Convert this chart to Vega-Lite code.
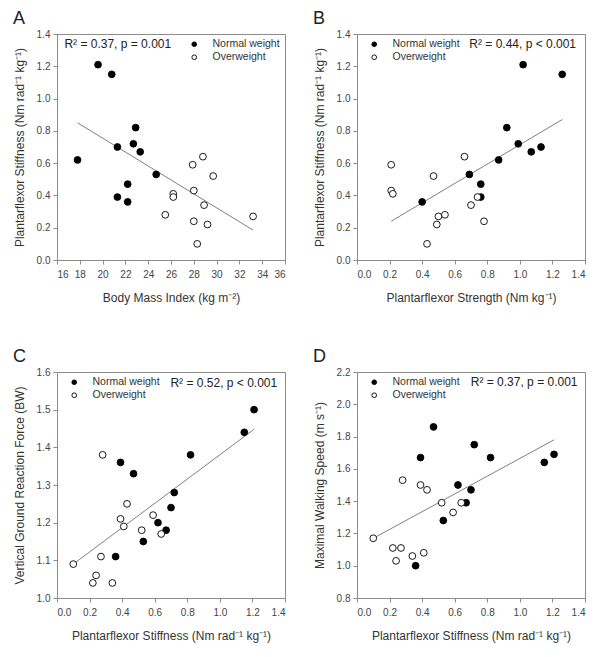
{
  "$schema": "https://vega.github.io/schema/vega-lite/v6.json",
  "padding": {"left": 12, "top": 9, "right": 5, "bottom": 5},
  "background": "white",
  "datasets": {
    "a": [
      {"x": 17.8, "y": 0.62, "group": "Normal weight"},
      {"x": 19.6, "y": 1.21, "group": "Normal weight"},
      {"x": 20.8, "y": 1.15, "group": "Normal weight"},
      {"x": 21.3, "y": 0.70, "group": "Normal weight"},
      {"x": 21.3, "y": 0.39, "group": "Normal weight"},
      {"x": 22.2, "y": 0.47, "group": "Normal weight"},
      {"x": 22.2, "y": 0.36, "group": "Normal weight"},
      {"x": 22.7, "y": 0.72, "group": "Normal weight"},
      {"x": 22.9, "y": 0.82, "group": "Normal weight"},
      {"x": 23.3, "y": 0.67, "group": "Normal weight"},
      {"x": 24.7, "y": 0.53, "group": "Normal weight"},
      {"x": 25.5, "y": 0.28, "group": "Overweight"},
      {"x": 26.2, "y": 0.41, "group": "Overweight"},
      {"x": 26.2, "y": 0.39, "group": "Overweight"},
      {"x": 27.9, "y": 0.59, "group": "Overweight"},
      {"x": 28.0, "y": 0.43, "group": "Overweight"},
      {"x": 28.0, "y": 0.24, "group": "Overweight"},
      {"x": 28.3, "y": 0.10, "group": "Overweight"},
      {"x": 28.8, "y": 0.64, "group": "Overweight"},
      {"x": 28.9, "y": 0.34, "group": "Overweight"},
      {"x": 29.2, "y": 0.22, "group": "Overweight"},
      {"x": 29.7, "y": 0.52, "group": "Overweight"},
      {"x": 33.2, "y": 0.27, "group": "Overweight"}
    ],
    "aFit": [{"x": 17.8, "y": 0.85}, {"x": 33.2, "y": 0.185}],
    "aNote": [{"note": "R² = 0.37, p = 0.001", "x": 16.65, "y": 1.335}],
    "b": [
      {"x": 0.40, "y": 0.36, "group": "Normal weight"},
      {"x": 0.69, "y": 0.53, "group": "Normal weight"},
      {"x": 0.76, "y": 0.47, "group": "Normal weight"},
      {"x": 0.76, "y": 0.39, "group": "Normal weight"},
      {"x": 1.02, "y": 1.21, "group": "Normal weight"},
      {"x": 1.26, "y": 1.15, "group": "Normal weight"},
      {"x": 0.92, "y": 0.82, "group": "Normal weight"},
      {"x": 0.99, "y": 0.72, "group": "Normal weight"},
      {"x": 1.07, "y": 0.67, "group": "Normal weight"},
      {"x": 1.13, "y": 0.70, "group": "Normal weight"},
      {"x": 0.87, "y": 0.62, "group": "Normal weight"},
      {"x": 0.21, "y": 0.59, "group": "Overweight"},
      {"x": 0.21, "y": 0.43, "group": "Overweight"},
      {"x": 0.22, "y": 0.41, "group": "Overweight"},
      {"x": 0.47, "y": 0.52, "group": "Overweight"},
      {"x": 0.66, "y": 0.64, "group": "Overweight"},
      {"x": 0.70, "y": 0.34, "group": "Overweight"},
      {"x": 0.74, "y": 0.39, "group": "Overweight"},
      {"x": 0.78, "y": 0.24, "group": "Overweight"},
      {"x": 0.50, "y": 0.27, "group": "Overweight"},
      {"x": 0.54, "y": 0.28, "group": "Overweight"},
      {"x": 0.49, "y": 0.22, "group": "Overweight"},
      {"x": 0.43, "y": 0.10, "group": "Overweight"}
    ],
    "bFit": [{"x": 0.21, "y": 0.24}, {"x": 1.26, "y": 0.87}],
    "bNote": [{"note": "R² = 0.44, p < 0.001", "x": 1.345, "y": 1.335}],
    "c": [
      {"x": 0.39, "y": 1.36, "group": "Normal weight"},
      {"x": 0.47, "y": 1.33, "group": "Normal weight"},
      {"x": 0.36, "y": 1.11, "group": "Normal weight"},
      {"x": 0.53, "y": 1.15, "group": "Normal weight"},
      {"x": 0.62, "y": 1.20, "group": "Normal weight"},
      {"x": 0.67, "y": 1.18, "group": "Normal weight"},
      {"x": 0.70, "y": 1.24, "group": "Normal weight"},
      {"x": 0.72, "y": 1.28, "group": "Normal weight"},
      {"x": 0.82, "y": 1.38, "group": "Normal weight"},
      {"x": 1.15, "y": 1.44, "group": "Normal weight"},
      {"x": 1.21, "y": 1.50, "group": "Normal weight"},
      {"x": 0.10, "y": 1.09, "group": "Overweight"},
      {"x": 0.28, "y": 1.38, "group": "Overweight"},
      {"x": 0.43, "y": 1.25, "group": "Overweight"},
      {"x": 0.39, "y": 1.21, "group": "Overweight"},
      {"x": 0.41, "y": 1.19, "group": "Overweight"},
      {"x": 0.52, "y": 1.18, "group": "Overweight"},
      {"x": 0.59, "y": 1.22, "group": "Overweight"},
      {"x": 0.64, "y": 1.17, "group": "Overweight"},
      {"x": 0.27, "y": 1.11, "group": "Overweight"},
      {"x": 0.24, "y": 1.06, "group": "Overweight"},
      {"x": 0.22, "y": 1.04, "group": "Overweight"},
      {"x": 0.34, "y": 1.04, "group": "Overweight"}
    ],
    "cFit": [{"x": 0.10, "y": 1.09}, {"x": 1.21, "y": 1.448}],
    "cNote": [{"note": "R² = 0.52, p < 0.001", "x": 1.352, "y": 1.57}],
    "d": [
      {"x": 0.47, "y": 1.86, "group": "Normal weight"},
      {"x": 0.39, "y": 1.67, "group": "Normal weight"},
      {"x": 0.72, "y": 1.75, "group": "Normal weight"},
      {"x": 0.82, "y": 1.67, "group": "Normal weight"},
      {"x": 0.62, "y": 1.50, "group": "Normal weight"},
      {"x": 0.70, "y": 1.47, "group": "Normal weight"},
      {"x": 0.67, "y": 1.39, "group": "Normal weight"},
      {"x": 0.53, "y": 1.28, "group": "Normal weight"},
      {"x": 0.36, "y": 1.00, "group": "Normal weight"},
      {"x": 1.15, "y": 1.64, "group": "Normal weight"},
      {"x": 1.21, "y": 1.69, "group": "Normal weight"},
      {"x": 0.10, "y": 1.17, "group": "Overweight"},
      {"x": 0.28, "y": 1.53, "group": "Overweight"},
      {"x": 0.39, "y": 1.50, "group": "Overweight"},
      {"x": 0.43, "y": 1.47, "group": "Overweight"},
      {"x": 0.52, "y": 1.39, "group": "Overweight"},
      {"x": 0.59, "y": 1.33, "group": "Overweight"},
      {"x": 0.64, "y": 1.39, "group": "Overweight"},
      {"x": 0.22, "y": 1.11, "group": "Overweight"},
      {"x": 0.27, "y": 1.11, "group": "Overweight"},
      {"x": 0.24, "y": 1.03, "group": "Overweight"},
      {"x": 0.34, "y": 1.06, "group": "Overweight"},
      {"x": 0.41, "y": 1.08, "group": "Overweight"}
    ],
    "dFit": [{"x": 0.10, "y": 1.17}, {"x": 1.21, "y": 1.78}],
    "dNote": [{"note": "R² = 0.37, p = 0.001", "x": 1.354, "y": 2.136}]
  },
  "columns": 2,
  "spacing": {"row": 43, "column": 26},
  "concat": [
    {
      "width": 228, "height": 226,
      "title": {"text": "A"},
      "encoding": {
        "x": {"field": "x", "type": "quantitative", "scale": {"domain": [16, 36], "nice": false, "zero": false}, "axis": {"title": "Body Mass Index (kg m⁻²)", "values": [16, 18, 20, 22, 24, 26, 28, 30, 32, 34, 36]}},
        "y": {"field": "y", "type": "quantitative", "scale": {"domain": [0, 1.4], "nice": false}, "axis": {"title": "Plantarflexor Stiffness (Nm rad⁻¹ kg⁻¹)", "values": [0, 0.2, 0.4, 0.6, 0.8, 1.0, 1.2, 1.4], "format": ".1f"}}
      },
      "layer": [
        {"data": {"name": "aFit"}, "mark": {"type": "line", "color": "#7f7f7f", "strokeWidth": 1}},
        {"data": {"name": "a"}, "mark": {"type": "circle", "size": 46, "opacity": 1, "stroke": "black", "strokeWidth": 0.9},
         "encoding": {"fill": {"field": "group", "type": "nominal", "scale": {"domain": ["Normal weight", "Overweight"], "range": ["black", "white"]}, "legend": {"orient": "top-right", "offset": 5}}}},
        {"data": {"name": "aNote"}, "mark": {"type": "text", "align": "left", "baseline": "middle", "fontSize": 12, "color": "#222"},
         "encoding": {"text": {"field": "note", "type": "nominal"}}}
      ]
    },
    {
      "width": 228, "height": 226,
      "title": {"text": "B"},
      "encoding": {
        "x": {"field": "x", "type": "quantitative", "scale": {"domain": [0, 1.4], "nice": false}, "axis": {"title": "Plantarflexor Strength (Nm  kg⁻¹)", "values": [0, 0.2, 0.4, 0.6, 0.8, 1.0, 1.2, 1.4], "format": ".1f"}},
        "y": {"field": "y", "type": "quantitative", "scale": {"domain": [0, 1.4], "nice": false}, "axis": {"title": "Plantarflexor Stiffness (Nm rad⁻¹ kg⁻¹)", "values": [0, 0.2, 0.4, 0.6, 0.8, 1.0, 1.2, 1.4], "format": ".1f"}}
      },
      "layer": [
        {"data": {"name": "bFit"}, "mark": {"type": "line", "color": "#7f7f7f", "strokeWidth": 1}},
        {"data": {"name": "b"}, "mark": {"type": "circle", "size": 46, "opacity": 1, "stroke": "black", "strokeWidth": 0.9},
         "encoding": {"fill": {"field": "group", "type": "nominal", "scale": {"domain": ["Normal weight", "Overweight"], "range": ["black", "white"]}, "legend": {"orient": "none", "legendX": 12, "legendY": 5}}}},
        {"data": {"name": "bNote"}, "mark": {"type": "text", "align": "right", "baseline": "middle", "fontSize": 12, "color": "#222"},
         "encoding": {"text": {"field": "note", "type": "nominal"}}}
      ]
    },
    {
      "width": 228, "height": 226,
      "title": {"text": "C"},
      "encoding": {
        "x": {"field": "x", "type": "quantitative", "scale": {"domain": [0, 1.4], "nice": false}, "axis": {"title": "Plantarflexor Stiffness (Nm rad⁻¹ kg⁻¹)", "values": [0, 0.2, 0.4, 0.6, 0.8, 1.0, 1.2, 1.4], "format": ".1f"}},
        "y": {"field": "y", "type": "quantitative", "scale": {"domain": [1.0, 1.6], "nice": false, "zero": false}, "axis": {"title": "Vertical Ground Reaction Force (BW)", "values": [1.0, 1.1, 1.2, 1.3, 1.4, 1.5, 1.6], "format": ".1f"}}
      },
      "layer": [
        {"data": {"name": "cFit"}, "mark": {"type": "line", "color": "#7f7f7f", "strokeWidth": 1}},
        {"data": {"name": "c"}, "mark": {"type": "circle", "size": 46, "opacity": 1, "stroke": "black", "strokeWidth": 0.9},
         "encoding": {"fill": {"field": "group", "type": "nominal", "scale": {"domain": ["Normal weight", "Overweight"], "range": ["black", "white"]}, "legend": {"orient": "none", "legendX": 12, "legendY": 5}}}},
        {"data": {"name": "cNote"}, "mark": {"type": "text", "align": "right", "baseline": "middle", "fontSize": 12, "color": "#222"},
         "encoding": {"text": {"field": "note", "type": "nominal"}}}
      ]
    },
    {
      "width": 228, "height": 226,
      "title": {"text": "D"},
      "encoding": {
        "x": {"field": "x", "type": "quantitative", "scale": {"domain": [0, 1.4], "nice": false}, "axis": {"title": "Plantarflexor Stiffness (Nm rad⁻¹ kg⁻¹)", "values": [0, 0.2, 0.4, 0.6, 0.8, 1.0, 1.2, 1.4], "format": ".1f"}},
        "y": {"field": "y", "type": "quantitative", "scale": {"domain": [0.8, 2.2], "nice": false, "zero": false}, "axis": {"title": "Maximal Walking Speed (m s⁻¹)", "values": [0.8, 1.0, 1.2, 1.4, 1.6, 1.8, 2.0, 2.2], "format": ".1f"}}
      },
      "layer": [
        {"data": {"name": "dFit"}, "mark": {"type": "line", "color": "#7f7f7f", "strokeWidth": 1}},
        {"data": {"name": "d"}, "mark": {"type": "circle", "size": 46, "opacity": 1, "stroke": "black", "strokeWidth": 0.9},
         "encoding": {"fill": {"field": "group", "type": "nominal", "scale": {"domain": ["Normal weight", "Overweight"], "range": ["black", "white"]}, "legend": {"orient": "none", "legendX": 12, "legendY": 5}}}},
        {"data": {"name": "dNote"}, "mark": {"type": "text", "align": "right", "baseline": "middle", "fontSize": 12, "color": "#222"},
         "encoding": {"text": {"field": "note", "type": "nominal"}}}
      ]
    }
  ],
  "resolve": {"scale": {"fill": "independent"}, "legend": {"fill": "independent"}},
  "config": {
    "font": "Liberation Sans",
    "view": {"stroke": "#8c8c8c", "strokeWidth": 1},
    "axis": {
      "grid": false, "domainColor": "#8c8c8c", "tickColor": "#8c8c8c", "tickSize": 4,
      "labelFont": "Liberation Sans", "labelFontSize": 10, "labelColor": "#444", "labelPadding": 3,
      "titleFont": "Liberation Sans", "titleFontSize": 12, "titleFontWeight": "normal", "titleColor": "#333", "titlePadding": 10
    },
    "axisX": {"labelPadding": 5, "titlePadding": 13},
    "legend": {
      "title": null, "padding": 0, "symbolType": "circle", "symbolSize": 22,
      "symbolStrokeColor": "black", "symbolStrokeWidth": 0.9,
      "labelFont": "Liberation Sans", "labelFontSize": 10.5, "labelColor": "#333", "labelOffset": 13, "rowPadding": 2
    },
    "title": {"font": "Liberation Sans", "fontSize": 18, "fontWeight": "normal", "anchor": "start", "frame": "bounds", "color": "#222", "offset": 1}
  }
}
